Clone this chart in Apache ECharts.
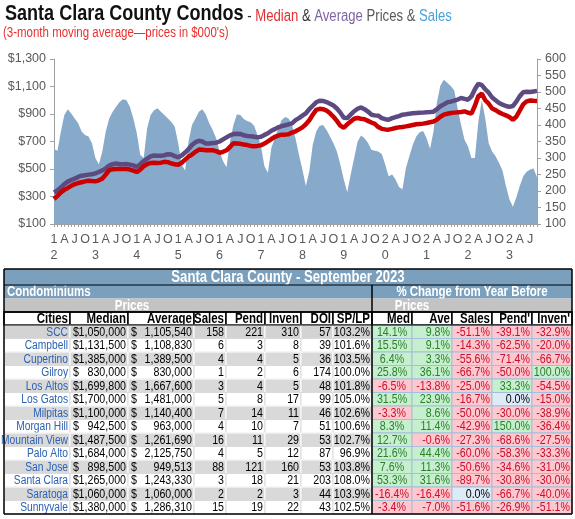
<!DOCTYPE html>
<html>
<head>
<meta charset="utf-8">
<script src="https://cdn.jsdelivr.net/npm/echarts@6/dist/echarts.min.js"></script>
<style>
  html, body { margin: 0; padding: 0; background: #fff; }
  #main { width: 575px; height: 519px; }
</style>
</head>
<body>
<div id="main"></div>
<script>
var FONT = '"Liberation Sans", Arial, sans-serif';
var NARROW = 0.82; // the source uses a condensed face; squeeze text horizontally

// monthly, Jan 2012 .. Sep 2023, 3-month moving averages ($000's / units)
var medianPrice = [
  282, 305, 330, 348, 362, 378, 390, 398, 404, 410, 415, 412,
  410, 418, 430, 460, 492, 498, 500, 500, 500, 500, 496, 488,
  478, 495, 520, 535, 544, 545, 544, 546, 552, 550, 540, 535,
  531, 545, 568, 590, 605, 625, 641, 640, 636, 636, 636, 630,
  618, 625, 636, 660, 688, 686, 683, 678, 674, 668, 665, 668,
  672, 685, 701, 718, 733, 743, 750, 750, 752, 765, 774, 788,
  803, 825, 855, 895, 930, 938, 935, 925, 905, 880, 850, 815,
  800, 825, 845, 865, 871, 866, 862, 850, 838, 828, 805, 792,
  788, 786, 792, 798, 803, 806, 810, 815, 820, 825, 828, 830,
  835, 840, 845, 859, 880, 895, 902, 907, 910, 912, 915, 919,
  910, 902, 960, 1030, 1048, 1000, 975, 940, 928, 912, 900, 890,
  878, 858, 880, 925, 970, 992, 998, 996, 995
];
var averagePrice = [
  330, 345, 365, 390, 408, 420, 430, 442, 451, 455, 459, 462,
  468, 478, 490, 505, 525, 535, 540, 535, 534, 536, 532, 526,
  516, 535, 558, 575, 592, 598, 597, 597, 600, 608, 605, 594,
  585, 598, 620, 645, 675, 695, 705, 700, 685, 686, 689, 691,
  700, 715, 730, 745, 754, 757, 755, 745, 740, 738, 734, 730,
  735, 748, 760, 778, 790, 803, 812, 818, 825, 832, 855, 870,
  888, 905, 935, 960, 985, 996, 995, 987, 975, 962, 940, 910,
  872, 870, 895, 920, 938, 948, 935, 918, 895, 890, 888, 870,
  862, 858, 870, 878, 885, 895, 898, 902, 905, 907, 909, 910,
  912, 914, 917, 935, 956, 970, 985, 990, 997, 1005, 1016, 1010,
  1004, 1028, 1080, 1120, 1110, 1080, 1055, 1020, 1000, 980, 968, 958,
  952, 958, 990, 1030, 1058, 1062, 1060, 1064, 1068
];
var salesCount = [
  327, 322, 380, 430, 448, 435, 420, 405, 380, 370, 365, 345,
  300, 280, 320, 380, 420, 440, 455, 470, 478, 475, 455, 420,
  375, 310, 300, 390, 430, 445, 451, 440, 430, 420, 410, 395,
  345, 280, 262, 350, 400, 420, 440, 448, 432, 405, 385, 360,
  320, 290, 272, 350, 400, 432, 430, 418, 412, 408, 398, 370,
  335, 275, 255, 330, 360, 390, 415, 424, 420, 400, 360, 310,
  265, 215, 260, 340, 380, 398, 400, 385, 365, 345, 320, 280,
  235, 196, 250, 300, 350, 368, 360, 346, 325, 322, 320, 312,
  280, 245, 250, 235, 212, 205, 270, 305, 340, 365, 378, 382,
  360, 328, 380, 470, 520, 537, 528, 518, 505, 450, 400, 355,
  335, 300, 300, 410, 475, 420, 345, 320, 305, 285, 262, 215,
  175, 152, 180, 215, 245, 258, 265, 268, 242
];

var months = [];
for (var y = 2012; y <= 2023; y++) {
  for (var m = 1; m <= 12; m++) {
    if (y === 2023 && m > 9) break;
    months.push(y + '-' + (m < 10 ? '0' : '') + m);
  }
}
var quarterLetters = { '04': 'A', '07': 'J', '10': 'O' };

// table: Santa Clara County - September 2023
var cities = ['SCC', 'Campbell', 'Cupertino', 'Gilroy', 'Los Altos', 'Los Gatos', 'Milpitas',
  'Morgan Hill', 'Mountain View', 'Palo Alto', 'San Jose', 'Santa Clara', 'Saratoga', 'Sunnyvale'];
var median = [1050000, 1131500, 1385000, 830000, 1699800, 1700000, 1100000, 942500, 1487500, 1684000, 898500, 1265000, 1060000, 1380000];
var average = [1105540, 1108830, 1389500, 830000, 1667600, 1481000, 1140400, 963000, 1261690, 2125750, 949513, 1243330, 1060000, 1286310];
var sales = [158, 6, 4, 1, 3, 5, 7, 4, 16, 4, 88, 3, 2, 15];
var pend = [221, 3, 4, 2, 4, 8, 14, 10, 11, 5, 121, 18, 2, 19];
var inven = [310, 8, 5, 6, 5, 17, 11, 7, 29, 12, 160, 21, 3, 22];
var doi = [57, 39, 36, 174, 48, 99, 46, 51, 53, 87, 53, 203, 44, 43];
var spLp = [103.2, 101.6, 103.5, 100.0, 101.8, 105.0, 102.6, 100.6, 102.7, 96.9, 103.8, 108.0, 103.9, 102.5];
var chgMed = [14.1, 15.5, 6.4, 25.8, -6.5, 31.5, -3.3, 8.3, 12.7, 21.6, 7.6, 53.3, -16.4, -3.4];
var chgAve = [9.8, 9.1, 3.3, 36.1, -13.8, 23.9, 8.6, 11.4, -0.6, 44.4, 11.3, 31.6, -16.4, -7.0];
var chgSales = [-51.1, -14.3, -55.6, -66.7, -25.0, -16.7, -50.0, -42.9, -27.3, -60.0, -50.6, -89.7, 0.0, -51.6];
var chgPend = [-39.1, -62.5, -71.4, -50.0, 33.3, 0.0, -30.0, 150.0, -68.6, -58.3, -34.6, -30.8, -66.7, -26.9];
var chgInven = [-32.9, -20.0, -66.7, 100.0, -54.5, -15.0, -38.9, -36.4, -27.5, -33.3, -31.0, -30.0, -40.0, -51.1];
var headers = ['Cities', 'Median', 'Average', 'Sales', 'Pend', 'Inven', 'DOI', 'SP/LP', 'Med', 'Ave', 'Sales', "Pend'", "Inven'"];

// table layout (units of the table grid)
var colEdges = [0, 66, 124, 190, 222, 261, 297, 329, 368, 408, 448, 488, 528, 568];
var headRows = [0, 16, 29.5, 43, 56];
var rowH = 13.5;
var tableH = headRows[4] + rowH * cities.length;

var BLUE = '#7BA0BD';
var fBold = 'bold 14px ' + FONT;
var fNorm = '13px ' + FONT;

function money(v) { return String(v).replace(/\B(?=(\d{3})+(?!\d))/g, ','); }

var cells = [];
function cell(x0, y0, x1, y1, fill, stroke, texts, sw) {
  cells.push({ x0: x0, y0: y0, x1: x1, y1: y1, fill: fill, stroke: stroke, texts: texts || [], sw: sw || 1 });
}
function line(x0, y0, x1, y1, color, w) {
  cells.push({ line: true, x0: x0, y0: y0, x1: x1, y1: y1, stroke: color, w: w });
}
var W = colEdges[colEdges.length - 1];
var mid = colEdges[8];

cell(0, headRows[0], W, headRows[1], BLUE, null,
  [{ text: 'Santa Clara County - September 2023', align: 'center', color: '#fff', font: 'bold 16px ' + FONT }]);
cell(0, headRows[1], mid, headRows[2], BLUE, null,
  [{ text: 'Condominiums', align: 'left', color: '#fff', font: fBold }]);
cell(mid, headRows[1], W, headRows[2], BLUE, null,
  [{ text: '% Change from Year Before', align: 'center', color: '#fff', font: fBold }]);
cell(0, headRows[2], mid, headRows[3], '#C3C3C3', null,
  [{ text: 'Prices', align: 'center', at: (colEdges[1] + colEdges[3]) / 2, color: '#fff', font: fBold }]);
cell(mid, headRows[2], W, headRows[3], '#C3C3C3', null,
  [{ text: 'Prices', align: 'center', at: (colEdges[8] + colEdges[10]) / 2, color: '#fff', font: fBold }]);
headers.forEach(function (h, c) {
  cell(colEdges[c], headRows[3], colEdges[c + 1], headRows[4], '#fff', '#000',
    [{ text: h, align: 'right', color: '#000', font: fBold }], 1.5);
});

cities.forEach(function (name, r) {
  var y0 = headRows[4] + r * rowH, y1 = y0 + rowH;
  var gray = r % 2 === 0;
  var bg = r === 0 ? '#D3D3D3' : (gray ? '#D9D9D9' : '#fff');
  var sep = gray ? '#fff' : '#DADADA';
  var left = [
    [{ text: name, align: 'right', color: '#2B62B3', font: '12.5px ' + FONT }],
    [{ text: '$', align: 'left', color: '#000', font: fNorm }, { text: money(median[r]), align: 'right', color: '#000', font: fNorm }],
    [{ text: '$', align: 'left', color: '#000', font: fNorm }, { text: money(average[r]), align: 'right', color: '#000', font: fNorm }],
    [{ text: String(sales[r]), align: 'right', color: '#000', font: fNorm }],
    [{ text: String(pend[r]), align: 'right', color: '#000', font: fNorm }],
    [{ text: String(inven[r]), align: 'right', color: '#000', font: fNorm }],
    [{ text: String(doi[r]), align: 'right', color: '#000', font: fNorm }],
    [{ text: spLp[r].toFixed(1) + '%', align: 'right', color: '#000', font: fNorm }]
  ];
  left.forEach(function (t, c) {
    cell(colEdges[c], y0, colEdges[c + 1], y1, bg, sep, t);
  });
  [chgMed, chgAve, chgSales, chgPend, chgInven].forEach(function (arr, k) {
    var v = arr[r];
    var fill = v > 0 ? '#C6EFCE' : (v < 0 ? '#FFC7CE' : '#DDEBF7');
    var col = v > 0 ? '#2A7F2A' : (v < 0 ? '#C8102E' : '#000');
    cell(colEdges[8 + k], y0, colEdges[9 + k], y1, fill, '#A3BFDA',
      [{ text: v.toFixed(1) + '%', align: k === 0 ? 'center' : 'right', color: col, font: fNorm }]);
  });
});

line(0, headRows[1], W, headRows[1], '#000', 1);
line(0, headRows[3], W, headRows[3], '#000', 1.5);
line(0, headRows[4], W, headRows[4], '#000', 1);
line(mid, headRows[1], mid, tableH, '#000', 1.5);
line(0, 0, W, 0, '#000', 1.5);
line(0, tableH, W, tableH, '#000', 1.5);
line(0, 0, 0, tableH, '#000', 1.5);
line(W, 0, W, tableH, '#000', 1.5);

function renderCell(params, api) {
  var c = cells[params.dataIndex];
  var p0 = api.coord([api.value(0), api.value(1)]);
  var p1 = api.coord([api.value(2), api.value(3)]);
  if (c.line) {
    return { type: 'line', shape: { x1: p0[0], y1: p0[1], x2: p1[0], y2: p1[1] },
      style: { stroke: c.stroke, lineWidth: c.w } };
  }
  var children = [{
    type: 'rect',
    shape: { x: p0[0], y: p0[1], width: p1[0] - p0[0], height: p1[1] - p0[1] },
    style: { fill: c.fill, stroke: c.stroke || null, lineWidth: c.stroke ? c.sw : 0 }
  }];
  c.texts.forEach(function (t) {
    var x = t.align === 'left' ? p0[0] + 3 : (t.align === 'right' ? p1[0] - 2 : (p0[0] + p1[0]) / 2);
    if (t.at != null) x = api.coord([t.at, 0])[0];
    children.push({
      type: 'text',
      x: x, y: (p0[1] + p1[1]) / 2 + 0.5,
      scaleX: NARROW,
      style: { text: t.text, x: 0, y: 0, align: t.align,
        verticalAlign: 'middle', fill: t.color, font: t.font }
    });
  });
  return { type: 'group', children: children };
}

var myChart = echarts.init(document.getElementById('main'));

var axisText = { color: '#595959', fontSize: 12.5, fontFamily: FONT };

var titleRich = {
  a: { fontFamily: FONT, fontSize: 22, fontWeight: 'bold', fill: '#111', verticalAlign: 'bottom', lineHeight: 22 },
  b: { fontFamily: FONT, fontSize: 16, fill: '#333', verticalAlign: 'bottom', lineHeight: 20 },
  r: { fontFamily: FONT, fontSize: 16, fill: '#E03030', verticalAlign: 'bottom', lineHeight: 20 },
  p: { fontFamily: FONT, fontSize: 16, fill: '#8064A2', verticalAlign: 'bottom', lineHeight: 20 },
  g: { fontFamily: FONT, fontSize: 16, fill: '#595959', verticalAlign: 'bottom', lineHeight: 20 },
  s: { fontFamily: FONT, fontSize: 16, fill: '#4BA3DB', verticalAlign: 'bottom', lineHeight: 20 }
};

var option = {
  animation: false,
  backgroundColor: '#fff',
  graphic: [{
    type: 'text', x: 5, y: 3, scaleX: NARROW,
    style: {
      text: '{a|Santa Clara County Condos}{b| - }{r|Median}{b| & }{p|Average}{g| Prices & }{s|Sales}',
      rich: titleRich
    }
  }, {
    type: 'text', x: 3, y: 26, scaleX: NARROW,
    style: {
      text: '(3-month moving average\u2014prices in $000\'s)',
      font: '14px ' + FONT, fill: '#E8302F'
    }
  }],
  grid: [
    { left: 54, right: 38, top: 59, bottom: 295 },
    { left: 4, right: 3, top: 269, bottom: 519 - 269 - 245 }
  ],
  xAxis: [{
    type: 'category',
    gridIndex: 0,
    data: months,
    boundaryGap: false,
    axisLine: { lineStyle: { color: '#A0A0A0' } },
    axisTick: { interval: 0, length: 3, lineStyle: { color: '#A0A0A0' } },
    axisLabel: Object.assign({}, axisText, {
      interval: function (index) { return index % 3 === 0; },
      margin: 8,
      lineHeight: 15.5,
      formatter: function (v) {
        var mm = v.slice(5);
        if (mm === '01') return v.charAt(2) + '\n' + v.charAt(3);
        return quarterLetters[mm] || '';
      }
    }),
    splitLine: { show: false }
  }, {
    type: 'value', gridIndex: 1, min: 0, max: W, show: false
  }],
  yAxis: [{
    type: 'value',
    gridIndex: 0,
    min: 100, max: 1300, interval: 200,
    axisLine: { show: true, lineStyle: { color: '#A0A0A0' } },
    axisTick: { show: true, length: 4, lineStyle: { color: '#A0A0A0' } },
    splitLine: { show: false },
    axisLabel: Object.assign({}, axisText, {
      margin: 8,
      formatter: function (v) { return '$' + money(v); }
    })
  }, {
    type: 'value',
    gridIndex: 0,
    position: 'right',
    min: 100, max: 600, interval: 50,
    axisLine: { show: true, lineStyle: { color: '#A0A0A0' } },
    axisTick: { show: true, length: 4, lineStyle: { color: '#A0A0A0' } },
    splitLine: { show: false },
    axisLabel: Object.assign({}, axisText, { margin: 8 })
  }, {
    type: 'value', gridIndex: 1, min: 0, max: tableH, inverse: true, show: false
  }],
  series: [{
    name: 'Sales',
    type: 'line',
    xAxisIndex: 0, yAxisIndex: 1,
    data: salesCount,
    showSymbol: false,
    lineStyle: { width: 0 },
    areaStyle: { color: '#88AACA', opacity: 1 },
    z: 1
  }, {
    name: 'Average',
    type: 'line',
    xAxisIndex: 0, yAxisIndex: 0,
    data: averagePrice,
    showSymbol: false,
    lineStyle: { width: 4.5, color: '#5D4A80' },
    z: 3
  }, {
    name: 'Median',
    type: 'line',
    xAxisIndex: 0, yAxisIndex: 0,
    data: medianPrice,
    showSymbol: false,
    lineStyle: { width: 4.5, color: '#CC0000' },
    z: 4
  }, {
    name: 'table',
    type: 'custom',
    xAxisIndex: 1, yAxisIndex: 2,
    data: cells.map(function (c) { return [c.x0, c.y0, c.x1, c.y1]; }),
    encode: { x: [0, 2], y: [1, 3] },
    renderItem: renderCell,
    clip: false,
    silent: true,
    z: 5
  }]
};

myChart.setOption(option);
window.addEventListener('resize', function () { myChart.resize(); });
</script>
</body>
</html>
